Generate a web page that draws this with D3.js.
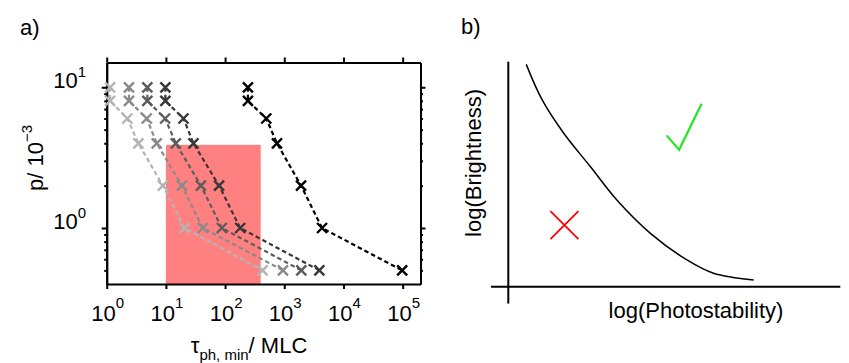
<!DOCTYPE html>
<html>
<head>
<meta charset="utf-8">
<script src="https://cdn.jsdelivr.net/npm/d3@7"></script>
<style>
  body { margin: 0; background: #fff; }
  text { font-family: Arial, "Liberation Sans", sans-serif; fill: #000; }
</style>
</head>
<body>
<div id="my_dataviz"></div>
<script>

// ---- panel a data: detection probability p (x10^-3) vs. tau_ph,min (MLC)
var pValues = [10, 8, 6, 4, 2, 1, 0.5];
var tauLight   = [1.14, 1.14, 2.23, 3.43, 8.87, 20.6, 430];
var tauGray    = [2.38, 2.38, 4.75, 7.0, 18.6, 42, 950];
var tauDark    = [4.86, 4.86, 9.7, 14.7, 39, 88, 1940];
var tauDarker  = [9.8, 9.8, 19.8, 29.2, 79, 180, 3910];
var tauBlack   = [243, 243, 496, 752, 1918, 4345, 98000];
var seriesList = [tauLight, tauGray, tauDark, tauDarker, tauBlack];

// shaded window (tau range, p range)
var windowTau = [10, 400];
var windowP = [0.4, 3.9];

var xTickValues = [1, 10, 100, 1000, 10000, 100000];
var xTickExp = ["0", "1", "2", "3", "4", "5"];
var yTickValues = [1, 10];
var yTickExp = ["0", "1"];
var yMinorTicks = [0.5, 0.6, 0.7, 0.8, 0.9, 2, 3, 4, 5, 6, 7, 8, 9];

// ---- panel b data: schematic trade-off curve (arbitrary log units)
var curveX = [0.54, 1.02, 1.67, 2.47, 3.27, 4.28, 5.38, 6.18, 7.39];
var curveY = [9.88, 8.30, 6.82, 5.34, 3.85, 2.37, 1.19, 0.60, 0.30];
var badMark = [1.69, 2.74];
var goodMark = [5.19, 6.66];

var colors = ["#b4b4b4", "#8a8a8a", "#5c5c5c", "#383838", "#000000"];

var width = 849, height = 363;

var svg = d3.select("#my_dataviz")
  .append("svg")
  .attr("width", width)
  .attr("height", height);

// ================= panel a =================
var x = d3.scaleLog().domain([1, 2e5]).range([106.7, 420.5]);
var y = d3.scaleLog().domain([0.4, 15]).range([284, 62.5]);

var ga = svg.append("g");

// red window
ga.append("rect")
  .attr("x", x(windowTau[0]))
  .attr("y", y(windowP[1]))
  .attr("width", x(windowTau[1]) - x(windowTau[0]))
  .attr("height", y(windowP[0]) - y(windowP[1]))
  .attr("fill", "#ff8080");

// axes (all ticks point outward)
function styleAxis(sel) {
  sel.selectAll("path").attr("stroke", "#000").attr("stroke-width", 2);
  sel.selectAll("line").attr("stroke", "#000").attr("stroke-width", 2);
  sel.selectAll("text").remove();
}

ga.append("g").attr("transform", "translate(0," + y.range()[0] + ")")
  .call(d3.axisBottom(x).tickValues(xTickValues).tickSize(5).tickSizeOuter(0))
  .call(styleAxis);
ga.append("g").attr("transform", "translate(0," + y.range()[1] + ")")
  .call(d3.axisTop(x).tickValues(xTickValues).tickSize(5).tickSizeOuter(0))
  .call(styleAxis);
ga.append("g").attr("transform", "translate(" + x.range()[0] + ",0)")
  .call(d3.axisLeft(y).tickValues(yTickValues).tickSize(5).tickSizeOuter(0))
  .call(styleAxis);
ga.append("g").attr("transform", "translate(" + x.range()[0] + ",0)")
  .call(d3.axisLeft(y).tickValues(yMinorTicks).tickSize(2.5).tickSizeOuter(0))
  .call(styleAxis);
ga.append("g").attr("transform", "translate(" + x.range()[1] + ",0)")
  .call(d3.axisRight(y).tickValues(yTickValues).tickSize(5).tickSizeOuter(0))
  .call(styleAxis);
ga.append("g").attr("transform", "translate(" + x.range()[1] + ",0)")
  .call(d3.axisRight(y).tickValues(yMinorTicks).tickSize(2.5).tickSizeOuter(0))
  .call(styleAxis);

// tick labels as 10^n
xTickValues.forEach(function(v, i) {
  var t = ga.append("text")
    .attr("x", x(v) + 1)
    .attr("y", 321)
    .attr("text-anchor", "middle")
    .attr("font-size", "22px")
    .text("10");
  t.append("tspan").attr("dy", -13).attr("font-size", "15px").text(xTickExp[i]);
});
yTickValues.forEach(function(v, i) {
  var t = ga.append("text")
    .attr("x", 86)
    .attr("y", y(v) + 1)
    .attr("text-anchor", "end")
    .attr("font-size", "22px")
    .text("10");
  t.append("tspan").attr("dy", -11).attr("font-size", "15px").text(yTickExp[i]);
});

// axis titles
var yTitle = ga.append("text")
  .attr("transform", "translate(42.5,158) rotate(-90)")
  .attr("text-anchor", "middle")
  .attr("font-size", "22px")
  .text("p/ 10");
yTitle.append("tspan").attr("dy", -11).attr("font-size", "15px").text("\u22123");

var xTitle = ga.append("text")
  .attr("x", 249)
  .attr("y", 353)
  .attr("text-anchor", "middle")
  .attr("font-size", "22px")
  .text("\u03c4");
xTitle.append("tspan").attr("dy", 7).attr("font-size", "15px").text("ph, min");
xTitle.append("tspan").attr("dy", -7).attr("font-size", "22px").text("/ MLC");

ga.append("text").attr("x", 20).attr("y", 34.5).attr("font-size", "22px").text("a)");

// series lines + crosses
var line = d3.line()
  .x(function(d) { return x(d[0]); })
  .y(function(d) { return y(d[1]); });

seriesList.forEach(function(taus, s) {
  var pts = taus.map(function(t, i) { return [t, pValues[i]]; });
  ga.append("path")
    .datum(pts)
    .attr("d", line)
    .attr("fill", "none")
    .attr("stroke", colors[s])
    .attr("stroke-width", 2.2)
    .attr("stroke-dasharray", "4.5,3");
  ga.append("g").selectAll("path")
    .data(pts)
    .enter().append("path")
    .attr("transform", function(d) { return "translate(" + x(d[0]) + "," + y(d[1]) + ")"; })
    .attr("d", "M-5,-5L5,5M-5,5L5,-5")
    .attr("stroke", colors[s])
    .attr("stroke-width", 2.4)
    .attr("fill", "none");
});

// ================= panel b =================
var xb = d3.scaleLinear().domain([0, 10]).range([508.3, 840.3]);
var yb = d3.scaleLinear().domain([0, 10]).range([286.7, 61.7]);

var gb = svg.append("g");

gb.append("line")
  .attr("x1", xb(0)).attr("x2", xb(0))
  .attr("y1", yb(-0.75)).attr("y2", yb(10))
  .attr("stroke", "#000").attr("stroke-width", 2);
gb.append("line")
  .attr("x1", xb(-0.52)).attr("x2", xb(10))
  .attr("y1", yb(0)).attr("y2", yb(0))
  .attr("stroke", "#000").attr("stroke-width", 2);

var curvePts = curveX.map(function(v, i) { return [v, curveY[i]]; });
gb.append("path")
  .datum(curvePts)
  .attr("d", d3.line()
    .x(function(d) { return xb(d[0]); })
    .y(function(d) { return yb(d[1]); })
    .curve(d3.curveCatmullRom))
  .attr("fill", "none")
  .attr("stroke", "#000")
  .attr("stroke-width", 1.5);

// red cross (bad region)
gb.append("path")
  .attr("transform", "translate(" + xb(badMark[0]) + "," + yb(badMark[1]) + ")")
  .attr("d", "M-14,-14L14,14M-14,14L14,-14")
  .attr("stroke", "#ff0000")
  .attr("stroke-width", 1.8)
  .attr("fill", "none");

// green tick (good region)
gb.append("path")
  .attr("transform", "translate(" + xb(goodMark[0]) + "," + yb(goodMark[1]) + ")")
  .attr("d", "M-14,-1.5L-1.5,13L21,-33")
  .attr("stroke", "#22e622")
  .attr("stroke-width", 2.2)
  .attr("fill", "none");

gb.append("text")
  .attr("transform", "translate(481,163) rotate(-90)")
  .attr("text-anchor", "middle")
  .attr("font-size", "22px")
  .text("log(Brightness)");
gb.append("text")
  .attr("x", 696)
  .attr("y", 318)
  .attr("text-anchor", "middle")
  .attr("font-size", "22px")
  .text("log(Photostability)");

gb.append("text").attr("x", 461).attr("y", 33.5).attr("font-size", "22px").text("b)");

</script>
</body>
</html>
